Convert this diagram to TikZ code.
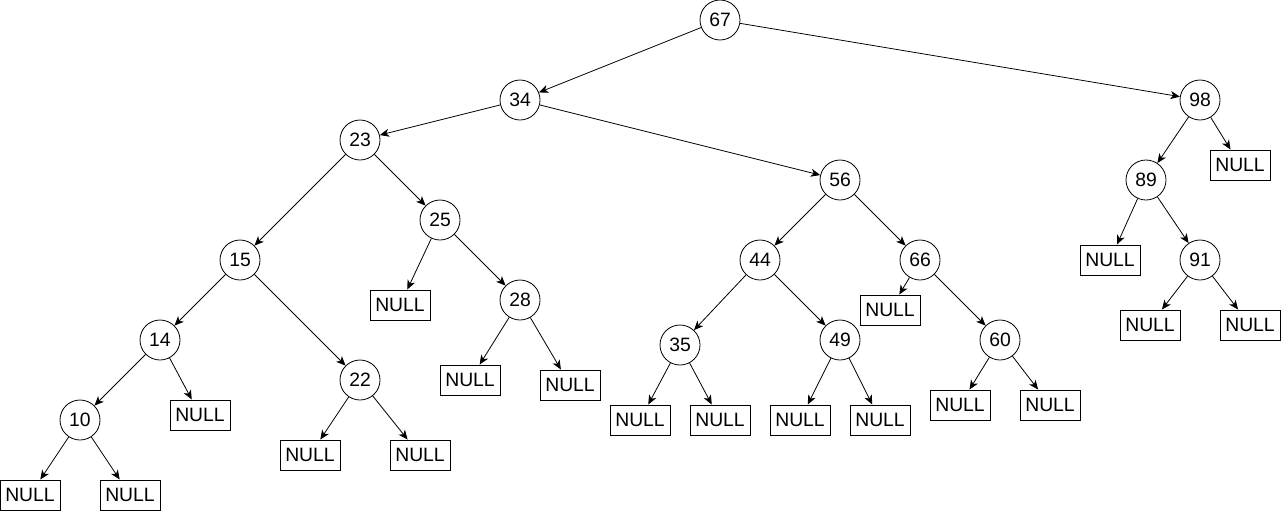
\documentclass[tikz,border=0pt]{standalone}
\usepackage{fontspec}
\setmainfont{Liberation Sans}
\usepackage{tikz}
\usetikzlibrary{arrows.meta}
\tikzset{
  keynode/.style={circle, draw=black, line width=0.6pt, minimum size=30pt, inner sep=0pt, font=\fontsize{14.5}{15}\selectfont},
  nullbox/.style={rectangle, draw=black, line width=0.75pt, minimum width=45pt, minimum height=22.5pt, inner sep=0pt, font=\fontsize{14.5}{15}\selectfont},
  link/.style={draw=black, line width=0.6pt, -{Stealth[length=7pt, width=6pt, inset=2pt]}},
}

\begin{document}
\begin{tikzpicture}[x=0.75pt, y=-0.75pt]
  \useasboundingbox (0,0) rectangle (1281,511);
  % keys, placed in pixel coordinates
  \node[keynode] (n67) at (720,20) {67};
  \node[keynode] (n34) at (520,100) {34};
  \node[keynode] (n98) at (1200,100) {98};
  \node[keynode] (n23) at (360,140) {23};
  \node[keynode] (n56) at (840,180) {56};
  \node[keynode] (n89) at (1146,180) {89};
  \node[keynode] (n25) at (440,220) {25};
  \node[keynode] (n15) at (240,260) {15};
  \node[keynode] (n44) at (760,260) {44};
  \node[keynode] (n66) at (920,260) {66};
  \node[keynode] (n91) at (1200,260) {91};
  \node[keynode] (n28) at (520,300) {28};
  \node[keynode] (n14) at (160,340) {14};
  \node[keynode] (n35) at (680,345) {35};
  \node[keynode] (n49) at (840,340) {49};
  \node[keynode] (n60) at (1000,340) {60};
  \node[keynode] (n22) at (360,380) {22};
  \node[keynode] (n10) at (80,420) {10};
  % empty children
  \node[nullbox] (x98) at (1240,165) {NULL};
  \node[nullbox] (x89) at (1110,260) {NULL};
  \node[nullbox] (x91a) at (1150,325) {NULL};
  \node[nullbox] (x91b) at (1250,325) {NULL};
  \node[nullbox] (x25) at (400,305) {NULL};
  \node[nullbox] (x28a) at (470,380) {NULL};
  \node[nullbox] (x28b) at (570,385) {NULL};
  \node[nullbox] (x22a) at (310,455) {NULL};
  \node[nullbox] (x22b) at (420,455) {NULL};
  \node[nullbox] (x14) at (200,415) {NULL};
  \node[nullbox] (x10a) at (30,495) {NULL};
  \node[nullbox] (x10b) at (130,495) {NULL};
  \node[nullbox] (x66) at (890,310) {NULL};
  \node[nullbox] (x35a) at (640,420) {NULL};
  \node[nullbox] (x35b) at (720,420) {NULL};
  \node[nullbox] (x49a) at (800,420) {NULL};
  \node[nullbox] (x49b) at (880,420) {NULL};
  \node[nullbox] (x60a) at (960,405) {NULL};
  \node[nullbox] (x60b) at (1050,405) {NULL};
  % links
  \foreach \a/\b in {n67/n34, n67/n98, n34/n23, n34/n56, n23/n15, n23/n25,
    n15/n14, n15/n22, n14/n10, n14/x14, n10/x10a, n10/x10b, n22/x22a, n22/x22b,
    n25/x25, n25/n28, n28/x28a, n28/x28b, n56/n44, n56/n66, n44/n35, n44/n49,
    n35/x35a, n35/x35b, n49/x49a, n49/x49b, n66/x66, n66/n60, n60/x60a, n60/x60b,
    n98/n89, n98/x98, n89/x89, n89/n91, n91/x91a, n91/x91b}
    \draw[link] (\a) -- (\b);
\end{tikzpicture}
\end{document}
